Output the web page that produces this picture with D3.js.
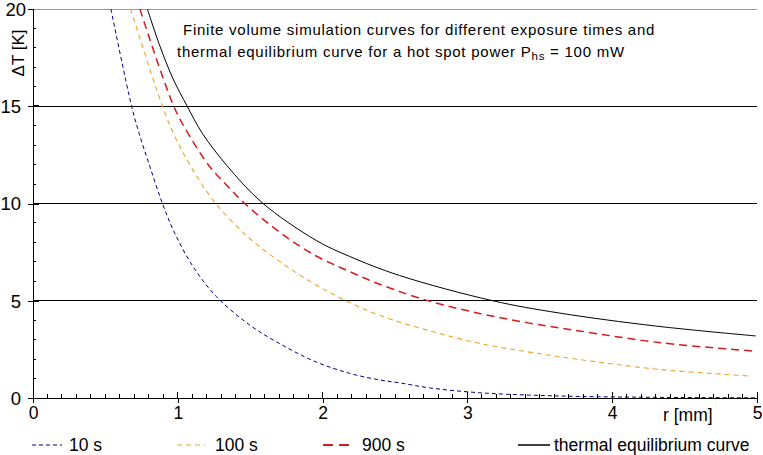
<!DOCTYPE html>
<html><head><meta charset="utf-8">
<script src="https://cdn.jsdelivr.net/npm/d3@7"></script>
<style>body{margin:0;background:#fff}svg{display:block}text{font-family:"Liberation Sans",Arial,sans-serif}</style>
</head><body><svg id="c" width="763" height="455"></svg>
<script>
// data: r [mm], ΔT [K]
const r10   = [0.538,0.681,0.733,0.807,0.894,0.979,1.106,1.267,1.497,1.726,1.956,2.186,2.393,2.531,2.738,3.083,3.428,3.772,4.2,4.6,5.0];
const t10   = [20,15,13.6,11.9,10,8.47,6.75,5.21,3.75,2.7,1.85,1.27,0.93,0.78,0.52,0.27,0.15,0.08,0.04,0.02,0.01];
const r100  = [0.674,0.88,0.97,1.09,1.262,1.497,1.726,1.956,2.163,2.393,2.738,3.083,3.428,3.772,4.324,4.956];
const t100  = [20,15.3,13.6,11.9,10,8.2,6.9,5.81,5,4.25,3.46,2.81,2.36,1.98,1.47,1.13];
const r900  = [0.738,0.972,1.071,1.22,1.336,1.462,1.726,1.956,2.186,2.393,2.738,3.083,3.428,3.772,4.324,4.968];
const t900  = [20,15,13.6,11.9,10.95,10,8.4,7.3,6.5,5.85,4.98,4.35,3.85,3.45,2.85,2.42];
const rEq   = [0.79,0.876,0.968,1.065,1.17,1.336,1.581,1.956,2.186,2.531,3.175,3.634,4.3,4.991];
const tEq   = [20,18.1,16.4,15,13.6,11.98,10.05,8.1,7.28,6.3,5.0,4.37,3.7,3.19];
const xTicks = [0,1,2,3,4,5];
const yTicks = [0,5,10,15,20];
const legendLabels = ["10 s","100 s","900 s","thermal equilibrium curve"];

const svg = d3.select("#c");
const x = d3.scaleLinear().domain([0,5]).range([33,757]);
const y = d3.scaleLinear().domain([0,20]).range([398,9]);

// grid lines
svg.append("g").selectAll("line").data([5,10,15]).join("line")
  .attr("x1",x(0)).attr("x2",x(5)).attr("y1",d=>y(d)).attr("y2",d=>y(d))
  .attr("stroke","#000").attr("shape-rendering","crispEdges");
svg.append("line").attr("x1",x(0)).attr("x2",x(5)).attr("y1",y(20)).attr("y2",y(20))
  .attr("stroke","#999").attr("shape-rendering","crispEdges");

// curves
const series = [
  {r:r10,t:t10,color:"#000080",dash:"4,3",w:1},
  {r:r100,t:t100,color:"#eca42a",dash:"5,4",w:1.1},
  {r:r900,t:t900,color:"#d41c1c",dash:"8,5",w:1.5},
  {r:rEq,t:tEq,color:"#000",dash:null,w:1}
];
const line = d3.line().x(d=>x(d[0])).y(d=>y(d[1])).curve(d3.curveCatmullRom.alpha(0.5));
svg.append("clipPath").attr("id","pc").append("rect").attr("x",33).attr("y",9).attr("width",724).attr("height",389);
series.forEach(s=>{
  const pts = s.r.map((v,i)=>[v,s.t[i]]);
  svg.append("path").attr("d",line(pts)).attr("fill","none")
    .attr("stroke",s.color).attr("stroke-width",s.w)
    .attr("stroke-dasharray",s.dash).attr("clip-path","url(#pc)");
});

// y axis
const yAx = d3.axisLeft(y).tickValues(yTicks).tickSize(5).tickPadding(7);
const gy = svg.append("g").attr("transform",`translate(${x(0)},0)`).call(yAx);
gy.select(".domain").remove();
gy.selectAll("line").attr("stroke","#000").attr("shape-rendering","crispEdges");
gy.selectAll("text").attr("font-size",18.5).attr("fill","#000").attr("dy","0.35em")
  .attr("dx",d=>d===20?5:0);
svg.append("line").attr("x1",x(0)).attr("x2",x(0)).attr("y1",y(20)).attr("y2",y(0)+5)
  .attr("stroke","#000").attr("shape-rendering","crispEdges");
// y minor ticks (right side)
svg.append("g").selectAll("line").data(d3.range(0,21).filter(v=>v%5!==0)).join("line")
  .attr("x1",x(0)).attr("x2",x(0)+3).attr("y1",d=>y(d)).attr("y2",d=>y(d))
  .attr("stroke","#000").attr("shape-rendering","crispEdges");
svg.append("g").selectAll("line").data([5,10,15]).join("line")
  .attr("x1",x(0)).attr("x2",x(0)+6).attr("y1",d=>y(d)).attr("y2",d=>y(d))
  .attr("stroke","#000").attr("stroke-width",2).attr("shape-rendering","crispEdges");

// x axis
const xAx = d3.axisBottom(x).tickValues(xTicks).tickSize(5).tickPadding(4).tickFormat(d3.format("d"));
const gx = svg.append("g").attr("transform",`translate(0,${y(0)})`).call(xAx);
gx.select(".domain").remove();
gx.selectAll("line").attr("stroke","#000").attr("shape-rendering","crispEdges");
gx.selectAll("text").attr("font-size",17.5).attr("fill","#000");
svg.append("line").attr("x1",x(0)).attr("x2",x(5)).attr("y1",y(0)).attr("y2",y(0))
  .attr("stroke","#000").attr("shape-rendering","crispEdges");
svg.append("g").selectAll("line").data(d3.range(0,51).map(v=>v/10)).join("line")
  .attr("x1",d=>x(d)).attr("x2",d=>x(d)).attr("y1",y(0)).attr("y2",d=>Math.abs(d-Math.round(d))<1e-9?y(0)-6:y(0)-4)
  .attr("stroke","#000").attr("shape-rendering","crispEdges");

// axis titles
svg.append("text").attr("transform","translate(24,53) rotate(-90)").attr("text-anchor","middle")
  .attr("font-size",17).text("ΔT [K]");
svg.append("text").attr("x",663).attr("y",421).attr("font-size",17.5).text("r [mm]");

// title
const title = svg.append("g").attr("font-size",15).attr("letter-spacing",0.75);
title.append("text").attr("x",183).attr("y",35).text("Finite volume simulation curves for different exposure times and");
const t2 = title.append("text").attr("x",177).attr("y",57);
t2.append("tspan").text("thermal equilibrium curve for a hot spot power  P");
t2.append("tspan").attr("font-size",11.5).attr("dy",3).text("hs");
t2.append("tspan").attr("dy",-3).text(" = 100 mW");

// legend
const legX = [[32,62,69],[177,205,215],[323,352,362],[518,550,554]];
const legStyle = [
  {color:"#000080",dash:"4,3",w:1},
  {color:"#eca42a",dash:"5,4",w:1.1},
  {color:"#d41c1c",dash:"10,6",w:2.2},
  {color:"#000",dash:null,w:1.5}
];
legendLabels.forEach((lab,i)=>{
  svg.append("line").attr("x1",legX[i][0]).attr("x2",legX[i][1]).attr("y1",445).attr("y2",445)
    .attr("stroke",legStyle[i].color).attr("stroke-width",legStyle[i].w).attr("stroke-dasharray",legStyle[i].dash);
  svg.append("text").attr("x",legX[i][2]).attr("y",451).attr("font-size",17.5).text(lab);
});
</script></body></html>
